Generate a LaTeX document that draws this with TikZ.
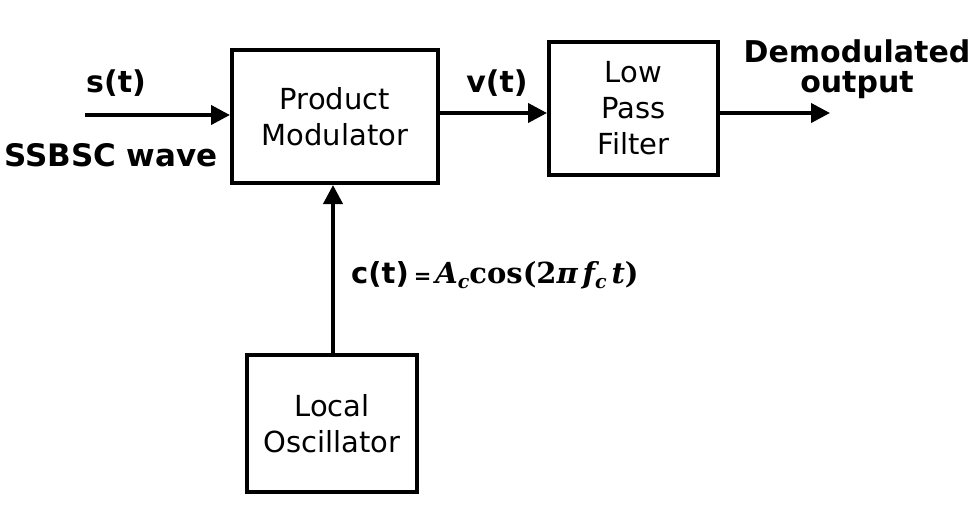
\documentclass[tikz,border=0pt]{standalone}
\usepackage{fontspec}
\setmainfont{DejaVu Sans}
\newfontfamily\eqf{DejaVu Serif}
\usetikzlibrary{arrows.meta}
\newcommand{\eqsub}[1]{\raisebox{-5pt}{\fontsize{19}{19}\selectfont #1}}
\begin{document}
\begin{tikzpicture}[x=1pt,y=-1pt,
  blk/.style={draw=black,line width=4pt,fill=white,align=center,inner sep=0pt,
    font=\fontsize{29}{36}\selectfont},
  lbl/.style={font=\fontsize{30}{30}\selectfont\bfseries,inner sep=0pt,align=center},
  arr/.style={line width=4pt,-{Triangle[length=19pt,width=19pt]}}]
\useasboundingbox[fill=white] (0,0) rectangle (976,527);
\node[blk,minimum width=206pt,minimum height=133pt] (pm) at (335,116.5) {Product\\Modulator};
\node[blk,minimum width=169pt,minimum height=133pt] (lpf) at (633.5,108.5) {Low\\Pass\\Filter};
\node[blk,minimum width=170pt,minimum height=137pt] (lo) at (332,423.5) {Local\\Oscillator};
\coordinate (sin) at (85,115);
\coordinate (y1) at (0,113);
\coordinate (out) at (830,113);
\coordinate (cx) at (333,0);
\draw[arr] (sin) -- (sin -| pm.west);
\draw[arr] (pm.east |- y1) -- (lpf.west |- y1);
\draw[arr] (lpf.east |- out) -- (out);
\draw[arr] (lo.north -| cx) -- (pm.south -| cx);
\node[lbl,anchor=base] (st) at (116,92) {s(t)};
\node[lbl,anchor=base west,font=\fontsize{31}{31}\selectfont\bfseries] (ss) at (4,166) {SSBSC wave};
\node[lbl,anchor=base] (vt) at (497,92) {v(t)};
\node[lbl,anchor=base] (dm) at (857,63) {Demodulated};
\node[lbl,anchor=base] (op) at (857,92) {output};
\node[inner sep=0pt,anchor=base west] (ct) at (351,283)
  {{\fontsize{29}{29}\selectfont\bfseries c(t)}\hspace{5pt}{\fontsize{21}{21}\selectfont\bfseries =}\hspace{4pt}{\eqf\bfseries\fontsize{29}{29}\selectfont\itshape A\eqsub{c}\upshape cos(2\itshape π\,f\eqsub{c}\,t\upshape)}};
\end{tikzpicture}
\end{document}
